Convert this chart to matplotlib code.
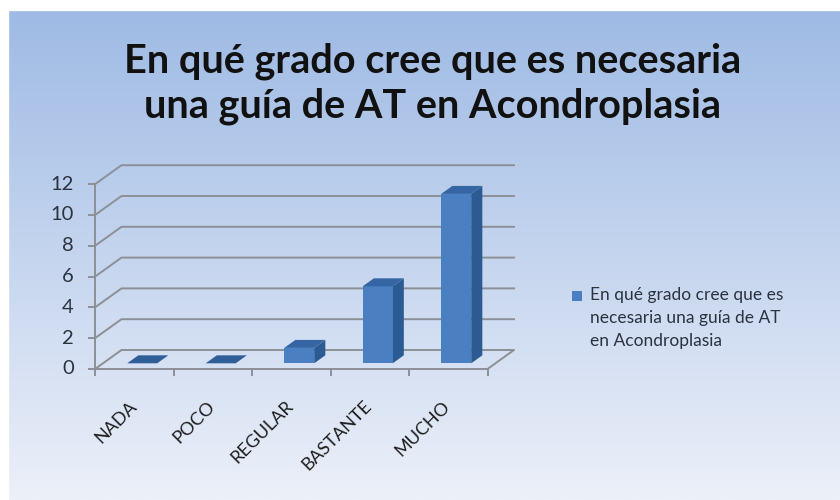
import numpy as np
import matplotlib
matplotlib.use("Agg")
import matplotlib.pyplot as plt
from matplotlib.patches import Polygon, Rectangle

categories = ["NADA", "POCO", "REGULAR", "BASTANTE", "MUCHO"]
values = [0, 0, 1, 5, 11]
yticks = [0, 2, 4, 6, 8, 10, 12]
series_name = "En qué grado cree que es\nnecesaria una guía de AT\nen Acondroplasia"
title = "En qué grado cree que es necesaria\nuna guía de AT en Acondroplasia"

plt.rcParams['font.family'] = ['Lato', 'DejaVu Sans']

W, H = 840, 500
fig = plt.figure(figsize=(W / 100, H / 100), dpi=100)

# background panel with vertical gradient
bg = fig.add_axes([0, 0, 1, 1])
bg.set_axis_off()
top_c = np.array([158, 186, 228]) / 255
bot_c = np.array([236, 240, 249]) / 255
t = np.linspace(0, 1, 256)[:, None]
grad = top_c[None, :] * (1 - t[..., None]) + bot_c[None, :] * t[..., None]
grad = np.repeat(grad, 2, axis=1)
bg.set_xlim(0, W)
bg.set_ylim(H, 0)
bg.imshow(grad, extent=[8, W, H, 10], aspect='auto', zorder=0)
bg.add_patch(Rectangle((0, 0), W, 10, color='white', zorder=1))
bg.add_patch(Rectangle((0, 0), 8, H, color='white', zorder=1))

# chart axes: front origin at px (95,369), 78.5 px per category, 15.4 px per unit
x0, y0, cw, vu = 95, 369, 78.5, 15.4
ax = fig.add_axes([0, 0, 1, 1])
ax.set_axis_off()
ax.patch.set_alpha(0)
ax.set_xlim(-x0 / cw, (W - x0) / cw)
ax.set_ylim((y0 - H) / vu, y0 / vu)

DX, DY = 26.5 / cw, 19 / vu   # depth offset of the back wall
n = len(categories)
ymax = yticks[-1]
gc = '#8c9096'
lw = 1.4

def P(x, y, d):
    return (x + d * DX, y + d * DY)

# back wall gridlines and left wall diagonals
for v in yticks:
    if v == 0:
        continue
    a = P(0, v, 0); b = P(0, v, 1); c = P(n, v, 1)
    ax.plot([a[0], b[0], c[0]], [a[1], b[1], c[1]], color=gc, lw=lw, zorder=2)
# floor
fl = [P(0, 0, 0), P(n, 0, 0), P(n, 0, 1), P(0, 0, 1), P(0, 0, 0)]
ax.plot([p[0] for p in fl], [p[1] for p in fl], color=gc, lw=lw, zorder=2)
# front vertical axis
ax.plot([0, 0], [0, ymax], color=gc, lw=lw, zorder=2)
tk = 6 / cw
for v in yticks:
    ax.plot([-tk, 0], [v, v], color=gc, lw=lw, zorder=2)
    ax.text(-21 / cw, v, str(v), ha='right', va='center', fontsize=14.5,
            color='#2b3340', zorder=5)
for i in range(n + 1):
    ax.plot([i, i], [0, -6 / vu], color=gc, lw=lw, zorder=2)

# bars
bw = 30 / cw
bd0, bd1 = 0.3, 0.72
front_c, side_c, top_col = '#4a80c2', '#2c5a92', '#3566a3'
for i, v in enumerate(values):
    xl = i + 0.5 - bw / 2
    xr = xl + bw
    fbl = P(xl, 0, bd0); fbr = P(xr, 0, bd0)
    ftl = P(xl, v, bd0); ftr = P(xr, v, bd0)
    btl = P(xl, v, bd1); btr = P(xr, v, bd1); bbr = P(xr, 0, bd1)
    if v > 0:
        ax.add_patch(Polygon([fbr, bbr, btr, ftr], closed=True, fc=side_c, ec='none', zorder=3))
        ax.add_patch(Polygon([fbl, fbr, ftr, ftl], closed=True, fc=front_c, ec='none', zorder=3))
    ax.add_patch(Polygon([ftl, ftr, btr, btl], closed=True, fc=top_col if v > 0 else '#2f5e99',
                         ec='none', zorder=4))
    ax.text(i + 0.5 - 6 / cw, -29 / vu, categories[i], rotation=45, rotation_mode='anchor',
            ha='right', va='top', fontsize=13, color='#1e1e1e', zorder=5)

# title
fig.text(433 / W, 1 - 84 / H, title, ha='center', va='center', fontsize=28.5,
         fontweight='bold', color='#111111', linespacing=1.25)

# legend
ax.add_patch(Rectangle(((572 - x0) / cw, (y0 - 301) / vu), 10 / cw, 10 / vu,
                       fc=front_c, ec='none', zorder=5))
fig.text(590 / W, 1 - 287 / H, series_name, ha='left', va='top', fontsize=12.5,
         color='#2b3340', linespacing=1.55)

fig.savefig("out.png", dpi=100)
